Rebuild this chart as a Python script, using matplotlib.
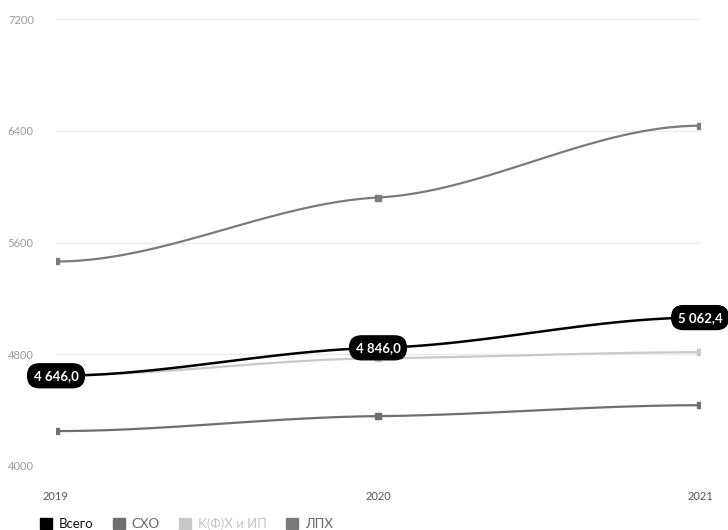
import matplotlib.pyplot as plt
import matplotlib.patches as mpatches
import numpy as np

plt.rcParams['font.family'] = ['Lato', 'DejaVu Sans']

years = [2019, 2020, 2021]
vsego = [4646.0, 4846.0, 5062.4]
sho = [4250, 4357, 4435]
kfh = [4650, 4771, 4814]
lph = [5464, 5922, 6436]

names = ["Всего", "СХО", "К(Ф)Х и ИП", "ЛПХ"]
colors = ["#000000", "#6f6f6f", "#c9c9c9", "#7b7b7b"]
yticks = [4000, 4800, 5600, 6400, 7200]


def smooth(x, y, k=0.25, n=60):
    # cubic hermite, flat at the ends, gentle slope at inner points
    x = np.asarray(x, float)
    y = np.asarray(y, float)
    h = np.diff(x)
    d = np.diff(y) / h
    m = np.zeros_like(y)
    for i in range(1, len(y) - 1):
        m[i] = k * (d[i - 1] + d[i]) / 2
    t = np.linspace(0, 1, n)
    xs, ys = [], []
    for i in range(len(h)):
        h00 = 2 * t**3 - 3 * t**2 + 1
        h10 = t**3 - 2 * t**2 + t
        h01 = -2 * t**3 + 3 * t**2
        h11 = t**3 - t**2
        xs.append(x[i] + t * h[i])
        ys.append(h00 * y[i] + h10 * h[i] * m[i] + h01 * y[i + 1] + h11 * h[i] * m[i + 1])
    return np.concatenate(xs), np.concatenate(ys)


fig = plt.figure(figsize=(7.28, 5.30), dpi=100)
ax = fig.add_axes([56 / 728, 1 - 466 / 530, (700 - 56) / 728, (466 - 19) / 530])

for v in yticks:
    ax.axhline(v, color="#ececec", lw=1, zorder=0)

series = [lph, sho, kfh, vsego]
cols = [colors[3], colors[1], colors[2], colors[0]]
for s, c in zip(series, cols):
    xs, ys = smooth(years, s)
    lw = 1.8 if c == "#000000" else 1.6
    ax.plot(xs, ys, color=c, lw=lw, zorder=3 if c == "#000000" else 2)
    if c != "#000000":
        ax.plot(years, s, ls="none", marker="s", ms=4.5, color=c, zorder=3)

for x, v in zip(years, vsego):
    txt = f"{v:,.1f}".replace(",", " ").replace(".", ",")
    ax.text(x, v, txt, ha="center", va="center", color="white", fontsize=9.5,
            fontweight="bold", zorder=5,
            bbox=dict(boxstyle="round,pad=0.45,rounding_size=0.9",
                      fc="black", ec="black"))

ax.set_xlim(2019, 2021)
ax.set_ylim(4000, 7200)
ax.set_yticks(yticks)
ax.set_xticks(years)
ax.set_xticklabels([str(y) for y in years])
for sp in ax.spines.values():
    sp.set_visible(False)
ax.tick_params(axis="y", length=0, pad=16, labelsize=8, labelcolor="#9a9a9a")
ax.tick_params(axis="x", length=0, pad=18, labelsize=8, labelcolor="#555555")

handles = [mpatches.Patch(color=c, label=n) for n, c in zip(names, colors)]
leg = fig.legend(handles=handles, loc="lower left", bbox_to_anchor=(28 / 728, -0.022),
                 ncol=4, frameon=False, fontsize=9.5, handlelength=0.9,
                 handleheight=0.9, handletextpad=0.5, columnspacing=1.5)
for t, c in zip(leg.get_texts(), ["#111111", "#666666", "#c6c6c6", "#666666"]):
    t.set_color(c)

fig.savefig("out.png", dpi=100)
